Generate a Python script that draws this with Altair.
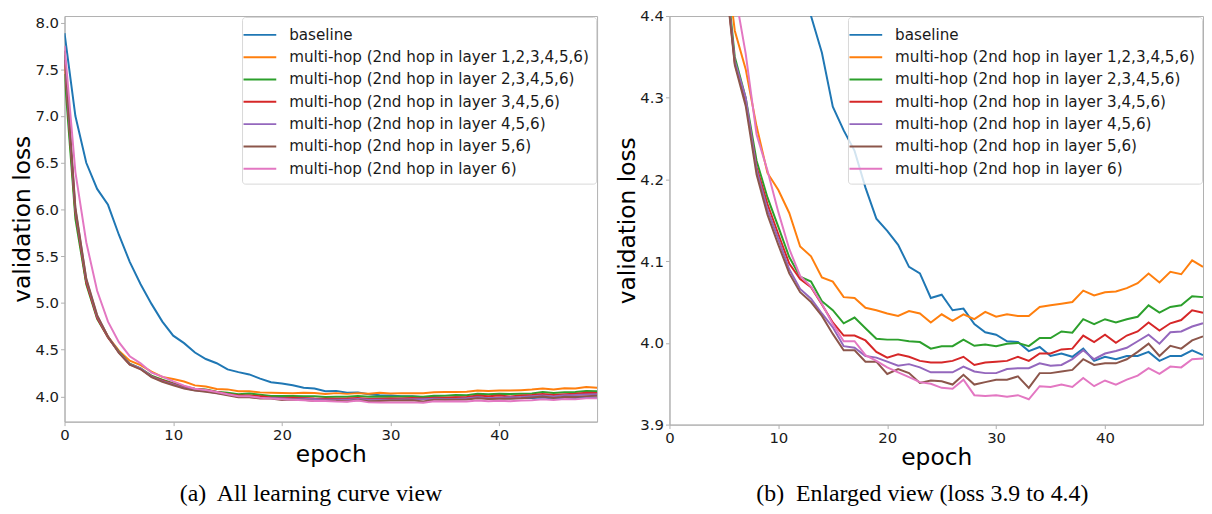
import altair as alt
import pandas as pd

epochs = list(range(50))

series_names = [
    "baseline",
    "multi-hop (2nd hop in layer 1,2,3,4,5,6)",
    "multi-hop (2nd hop in layer 2,3,4,5,6)",
    "multi-hop (2nd hop in layer 3,4,5,6)",
    "multi-hop (2nd hop in layer 4,5,6)",
    "multi-hop (2nd hop in layer 5,6)",
    "multi-hop (2nd hop in layer 6)",
]
colors = ["#1f77b4", "#ff7f0e", "#2ca02c", "#d62728", "#9467bd", "#8c564b", "#e377c2"]

baseline = [7.886, 7.00, 6.50, 6.22, 6.05, 5.73, 5.44, 5.20, 4.99, 4.80,
            4.65, 4.57, 4.47, 4.40, 4.355, 4.289, 4.26, 4.235, 4.19, 4.152,
            4.137, 4.12, 4.093, 4.085, 4.055, 4.059, 4.040, 4.042, 4.023, 4.013,
            4.010, 4.002, 4.001, 3.990, 3.995, 3.984, 3.987, 3.983, 3.993, 3.978,
            3.983, 3.980, 3.984, 3.984, 3.989, 3.978, 3.984, 3.984, 3.991, 3.985]
hop_1_6 = [7.55, 5.95, 5.22, 4.85, 4.64, 4.49, 4.382, 4.335, 4.265, 4.208,
           4.187, 4.159, 4.118, 4.106, 4.080, 4.075, 4.056, 4.055, 4.043, 4.040,
           4.036, 4.033, 4.039, 4.036, 4.025, 4.035, 4.027, 4.035, 4.029, 4.038,
           4.032, 4.035, 4.033, 4.033, 4.044, 4.046, 4.048, 4.050, 4.064, 4.058,
           4.062, 4.063, 4.067, 4.073, 4.085, 4.074, 4.087, 4.084, 4.101, 4.093]
hop_2_6 = [7.45, 5.90, 5.20, 4.83, 4.63, 4.48, 4.35, 4.30, 4.223, 4.178,
           4.142, 4.105, 4.081, 4.075, 4.051, 4.040, 4.024, 4.031, 4.018, 4.005,
           4.004, 4.004, 4.002, 4.001, 3.993, 3.996, 3.996, 4.004, 3.9965, 3.998,
           3.996, 3.999, 4.000, 3.996, 4.006, 4.006, 4.014, 4.0125, 4.029, 4.023,
           4.029, 4.025, 4.029, 4.032, 4.046, 4.037, 4.044, 4.046, 4.057, 4.056]
hop_3_6 = [7.60, 5.97, 5.22, 4.84, 4.63, 4.47, 4.342, 4.295, 4.215, 4.170,
           4.133, 4.097, 4.078, 4.068, 4.047, 4.025, 4.009, 4.009, 4.003, 3.989,
           3.982, 3.986, 3.983, 3.978, 3.976, 3.976, 3.978, 3.983, 3.973, 3.976,
           3.977, 3.978, 3.983, 3.978, 3.987, 3.987, 3.992, 3.993, 4.009, 4.001,
           4.010, 4.000, 4.009, 4.014, 4.025, 4.015, 4.024, 4.028, 4.040, 4.037]
hop_4_6 = [7.65, 6.00, 5.25, 4.86, 4.64, 4.47, 4.345, 4.30, 4.212, 4.163,
           4.127, 4.090, 4.066, 4.054, 4.036, 4.019, 3.996, 3.994, 3.984, 3.982,
           3.977, 3.972, 3.974, 3.970, 3.964, 3.964, 3.964, 3.971, 3.965, 3.963,
           3.963, 3.968, 3.969, 3.969, 3.975, 3.972, 3.973, 3.980, 3.991, 3.980,
           3.987, 3.990, 3.994, 4.002, 4.010, 3.999, 4.013, 4.014, 4.020, 4.024]
hop_5_6 = [7.70, 6.02, 5.26, 4.87, 4.64, 4.465, 4.34, 4.29, 4.206, 4.157,
           4.120, 4.085, 4.062, 4.050, 4.033, 4.011, 3.991, 3.991, 3.977, 3.977,
           3.962, 3.968, 3.963, 3.951, 3.954, 3.953, 3.949, 3.961, 3.949, 3.952,
           3.955, 3.955, 3.959, 3.945, 3.963, 3.963, 3.965, 3.967, 3.980, 3.973,
           3.975, 3.975, 3.980, 3.989, 3.999, 3.984, 3.9965, 3.993, 4.003, 4.008]
hop_6 = [7.75, 6.40, 5.65, 5.13, 4.80, 4.58, 4.43, 4.354, 4.255, 4.211,
         4.16, 4.115, 4.082, 4.069, 4.048, 4.023, 4.002, 4.002, 3.985, 3.978,
         3.970, 3.964, 3.958, 3.952, 3.950, 3.945, 3.944, 3.955, 3.936, 3.935,
         3.936, 3.934, 3.936, 3.931, 3.947, 3.946, 3.949, 3.946, 3.957, 3.947,
         3.954, 3.949, 3.955, 3.960, 3.969, 3.962, 3.971, 3.970, 3.980, 3.981]

all_series = [baseline, hop_1_6, hop_2_6, hop_3_6, hop_4_6, hop_5_6, hop_6]

left_yticks = [4.0, 4.5, 5.0, 5.5, 6.0, 6.5, 7.0, 7.5, 8.0]
right_yticks = [3.9, 4.0, 4.1, 4.2, 4.3, 4.4]
xticks = [0, 10, 20, 30, 40]
captions = ["(a)\u00a0 All learning curve view", "(b)\u00a0 Enlarged view (loss 3.9 to 4.4)"]

rows = []
for name, vals in zip(series_names, all_series):
    for e, v in zip(epochs, vals):
        rows.append({"epoch": e, "loss": v, "series": name})
df = pd.DataFrame(rows)

FONT = "DejaVu Sans"
GRAY = "#b0b0b0"


def panel(ydomain, yticks, width, height, caption, cap_dx, cap_offset):
    color = alt.Color(
        "series:N",
        scale=alt.Scale(domain=series_names, range=colors),
        sort=series_names,
        legend=alt.Legend(
            title=None,
            orient="top-right",
            offset=1,
            padding=6,
            columnPadding=0,
            labelFont=FONT,
            labelFontSize=15.3,
            labelColor="#1a1a1a",
            labelLimit=500,
            labelOffset=17.5,
            symbolType="M-1.5,0H1.5",
            symbolStrokeWidth=2,
            symbolSize=484,
            symbolFillColor="transparent",
            rowPadding=1.5,
            strokeColor="#d8d8d8",
            fillColor="rgba(255,255,255,0.8)",
            cornerRadius=3,
        ),
    )
    return (
        alt.Chart(
            df,
            title=alt.Title(
                caption,
                orient="bottom",
                anchor="middle",
                font="Liberation Serif",
                fontSize=24,
                fontWeight="normal",
                color="black",
                offset=cap_offset,
                dx=cap_dx,
            ),
        )
        .mark_line(strokeWidth=2, clip=True)
        .encode(
            x=alt.X(
                "epoch:Q",
                scale=alt.Scale(domain=[0, 49], nice=False, zero=False),
                axis=alt.Axis(values=xticks, title="epoch", labelFlush=False),
            ),
            y=alt.Y(
                "loss:Q",
                scale=alt.Scale(domain=ydomain, nice=False, zero=False),
                axis=alt.Axis(values=yticks, format=".1f", title="validation loss"),
            ),
            color=color,
        )
        .properties(width=width, height=height)
    )


left = panel([3.73, 8.07], left_yticks, 537, 409, captions[0], -20, 17)
right = panel([3.9, 4.4], right_yticks, 538, 412, captions[1], -14, 14)

chart = (
    alt.hconcat(left, right, spacing=17)
    .resolve_scale(color="independent", x="independent", y="independent")
    .resolve_legend(color="independent")
    .properties(padding={"left": 2, "top": -2, "right": 0, "bottom": 0})
    .configure_view(stroke=GRAY, strokeWidth=1)
    .configure_axis(
        domainColor=GRAY,
        tickColor=GRAY,
        tickSize=4,
        labelPadding=2,
        labelFont=FONT,
        labelFontSize=15,
        labelColor="#1a1a1a",
        titleFont=FONT,
        titleFontSize=23.5,
        titleFontWeight="normal",
        titleColor="black",
        titlePadding=0,
        grid=False,
    )
)

chart.save("out.html", embed_options={"renderer": "svg", "actions": False})
